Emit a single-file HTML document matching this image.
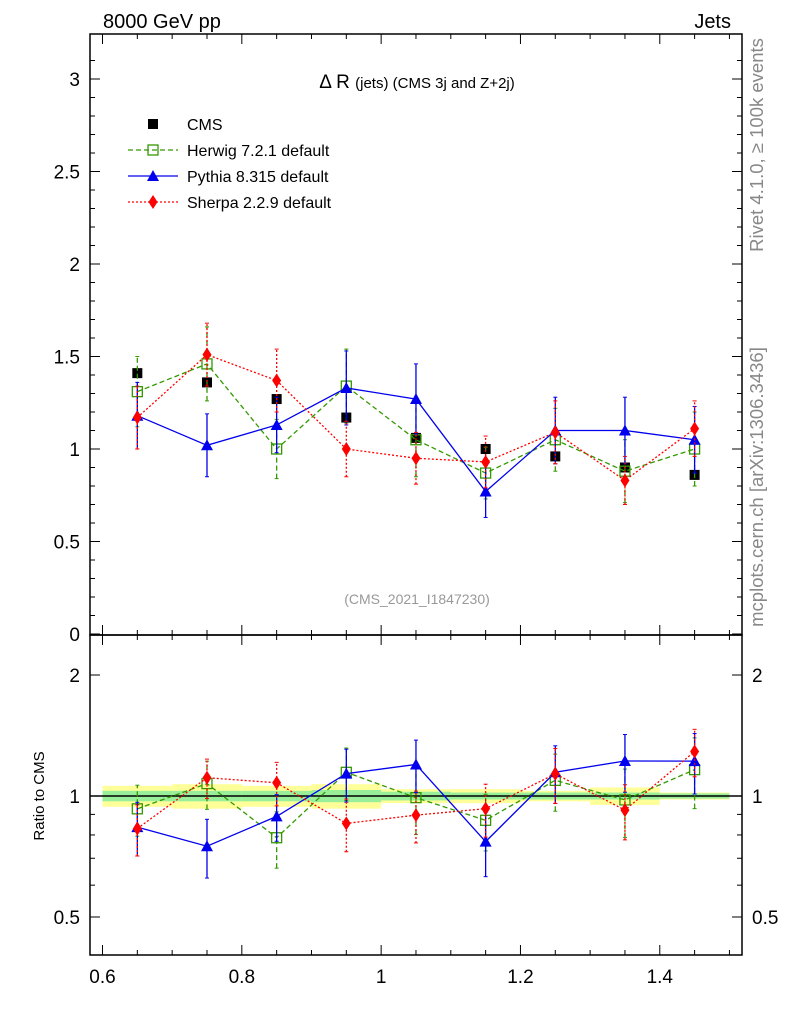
<!DOCTYPE html>
<html><head><meta charset="utf-8"><style>
body{margin:0;background:#fff}
svg{font-family:"Liberation Sans",sans-serif}
</style></head><body>
<svg id="c" width="786" height="1024" xmlns="http://www.w3.org/2000/svg"></svg>
<script>
const bins=[0.6,0.7,0.8,0.9,1.0,1.1,1.2,1.3,1.4,1.5];
const cmsVals=[1.41,1.36,1.27,1.17,1.06,1.00,0.96,0.90,0.86];
const cmsErr=[0.02,0.02,0.02,0.02,0.02,0.02,0.02,0.02,0.02];
const cmsTotRel=[0.06,0.07,0.06,0.07,0.04,0.04,0.03,0.05,0.02];
const cmsStatRel=[0.03,0.03,0.03,0.035,0.025,0.02,0.02,0.02,0.015];
const herwigVals=[1.31,1.46,1.00,1.34,1.05,0.87,1.05,0.88,1.00];
const herwigErr=[0.19,0.20,0.16,0.20,0.20,0.14,0.17,0.17,0.20];
const pythiaVals=[1.18,1.02,1.13,1.33,1.27,0.77,1.10,1.10,1.05];
const pythiaErr=[0.18,0.17,0.15,0.20,0.19,0.14,0.18,0.18,0.18];
const sherpaVals=[1.17,1.51,1.37,1.00,0.95,0.93,1.09,0.83,1.11];
const sherpaErr=[0.17,0.17,0.17,0.15,0.14,0.14,0.17,0.13,0.15];
const xTicks=[0.6,0.8,1,1.2,1.4];
const yTicks=[0,0.5,1,1.5,2,2.5,3];
const rTicks=[0.5,1,2];

const S=document.getElementById('c');const NS='http://www.w3.org/2000/svg';
function X(v){return 102.5+(v-0.6)*696.6;}
function Y(v){return 634-185*v;}
function R(v){return 796-121*Math.log2(v);}
function el(t,a,p){const e=document.createElementNS(NS,t);for(const k in a)e.setAttribute(k,a[k]);(p||S).appendChild(e);return e;}
function txt(x,y,s,a){const e=el('text',Object.assign({x:x,y:y},a));e.textContent=s;return e;}
const cen=bins.slice(0,-1).map((b,i)=>(b+bins[i+1])/2);

const band=el('g',{});


cen.forEach((c,i)=>{
 el('rect',{x:X(bins[i]),width:X(bins[i+1])-X(bins[i]),y:R(1+cmsTotRel[i]),height:R(1-cmsTotRel[i])-R(1+cmsTotRel[i]),fill:'#ffff99'},band);
});
cen.forEach((c,i)=>{
 el('rect',{x:X(bins[i]),width:X(bins[i+1])-X(bins[i]),y:R(1+cmsStatRel[i]),height:R(1-cmsStatRel[i])-R(1+cmsStatRel[i]),fill:'#99ee99'},band);
});
const ref=el('line',{x1:90,x2:742,y1:R(1),y2:R(1),stroke:'#000','stroke-width':1.5});



function marker(g,kind,x,y,col){
 if(kind==='sq')el('rect',{x:x-5,y:y-5,width:10,height:10,fill:'none',stroke:col,'stroke-width':1.3},g);
 else if(kind==='tri')el('polygon',{points:`${x},${y-6} ${x-6},${y+5} ${x+6},${y+5}`,fill:col},g);
 else if(kind==='dia')el('polygon',{points:`${x},${y-7} ${x-4.5},${y} ${x},${y+7} ${x+4.5},${y}`,fill:col},g);
 else el('rect',{x:x-5,y:y-5,width:10,height:10,fill:col},g);
}
function series(name,vals,errs,col,dash,kind,fy,ratio){
 const g=el('g',{});
 
 
 const v=ratio?vals.map((d,i)=>d/cmsVals[i]):vals;
 const e=ratio?errs.map((d,i)=>d/cmsVals[i]):errs;
 if(kind!=='cms'){
  el('polyline',{points:cen.map((c,i)=>X(c)+','+fy(v[i])).join(' '),fill:'none',stroke:col,'stroke-width':1.3,'stroke-dasharray':dash},g);
 }
 cen.forEach((c,i)=>{
  const x=X(c),lo=fy(Math.max(v[i]-e[i],0.01)),hi=fy(v[i]+e[i]);
  el('line',{x1:x,x2:x,y1:lo,y2:hi,stroke:col,'stroke-width':1.3,'stroke-dasharray':dash},g);
  el('line',{x1:x-2,x2:x+2,y1:lo,y2:lo,stroke:col},g);
  el('line',{x1:x-2,x2:x+2,y1:hi,y2:hi,stroke:col},g);
  marker(g,kind,x,fy(v[i]),col);
 });
}
series('cms',cmsVals,cmsErr,'#000','','cms',Y,false);
series('herwig',herwigVals,herwigErr,'#339900','5,3','sq',Y,false);
series('pythia',pythiaVals,pythiaErr,'#0000ee','','tri',Y,false);
series('sherpa',sherpaVals,sherpaErr,'#ff0000','2,2','dia',Y,false);
series('herwig',herwigVals,herwigErr,'#339900','5,3','sq',R,true);
series('pythia',pythiaVals,pythiaErr,'#0000ee','','tri',R,true);
series('sherpa',sherpaVals,sherpaErr,'#ff0000','2,2','dia',R,true);

const f1=el('rect',{x:90,y:34,width:652,height:601,fill:'none',stroke:'#000','stroke-width':1.5});

const f2=el('rect',{x:90,y:635,width:652,height:320,fill:'none',stroke:'#000','stroke-width':1.5});


for(let v=0.6;v<=1.51;v+=0.05){
 const maj=Math.abs(v*10-Math.round(v*10))<1e-6&&Math.round(v*10)%2===0;
 const L=maj?10:5;const x=X(v);
 [635,955].forEach(b=>{el('line',{x1:x,x2:x,y1:b,y2:b-L,stroke:'#000'});el('line',{x1:x,x2:x,y1:b-(b===635?601:320),y2:b-(b===635?601:320)+L,stroke:'#000'});});
}
xTicks.forEach(v=>{const t=txt(X(v),983,String(v),{'font-size':19,'text-anchor':'middle'});
 });
for(let v=0;v<=3.2;v+=0.1){const y=Y(v);const maj=Math.round(v*10)%5===0;const L=maj?10:5;
 el('line',{x1:90,x2:90+L,y1:y,y2:y,stroke:'#000'});el('line',{x1:742,x2:742-L,y1:y,y2:y,stroke:'#000'});}
yTicks.forEach(v=>{const t=txt(80,Y(v)+7,String(v),{'font-size':19,'text-anchor':'end'});
 });
[0.5,0.6,0.7,0.8,0.9,1,2].forEach(v=>{const y=R(v);const maj=rTicks.includes(v);const L=maj?10:5;
 el('line',{x1:90,x2:90+L,y1:y,y2:y,stroke:'#000'});el('line',{x1:742,x2:742-L,y1:y,y2:y,stroke:'#000'});});
rTicks.forEach(v=>{
 const t=txt(80,R(v)+7,String(v),{'font-size':19,'text-anchor':'end'});
 
 const t2=txt(752,R(v)+7,String(v),{'font-size':19});
 });

const lg=el('g',{});
const L=[['CMS','#000','','cms'],['Herwig 7.2.1 default','#339900','5,3','sq'],['Pythia 8.315 default','#0000ee','','tri'],['Sherpa 2.2.9 default','#ff0000','2,2','dia']];
L.forEach((l,i)=>{const y=124+26*i;
 if(l[3]!=='cms')el('line',{x1:128,x2:178,y1:y,y2:y,stroke:l[1],'stroke-width':1.3,'stroke-dasharray':l[2]},lg);
 marker(lg,l[3],153,y,l[1]);txt(187,y+6,l[0],{'font-size':16},lg);});
</script>
<svg width="786" height="1024" style="position:absolute;left:0;top:0" xmlns="http://www.w3.org/2000/svg">
<text x="103" y="28" font-size="20" font-family="Liberation Sans,sans-serif">8000 GeV pp</text>
<text x="731" y="28" font-size="20" text-anchor="end" font-family="Liberation Sans,sans-serif">Jets</text>
<text x="417" y="88" font-size="19" text-anchor="middle" font-family="Liberation Sans,sans-serif">Δ R <tspan font-size="15">(jets) (CMS 3j and Z+2j)</tspan></text>
<text x="417" y="604" font-size="14" fill="#999" text-anchor="middle" font-family="Liberation Sans,sans-serif">(CMS_2021_I1847230)</text>
<text transform="translate(44,796) rotate(-90)" font-size="15" text-anchor="middle" font-family="Liberation Sans,sans-serif">Ratio to CMS</text>
<text transform="translate(763,145) rotate(-90)" font-size="18.5" fill="#888" text-anchor="middle" font-family="Liberation Sans,sans-serif">Rivet 4.1.0, ≥ 100k events</text>
<text transform="translate(763,487) rotate(-90)" font-size="18.5" fill="#888" text-anchor="middle" font-family="Liberation Sans,sans-serif">mcplots.cern.ch [arXiv:1306.3436]</text>
</svg>
</body></html>
